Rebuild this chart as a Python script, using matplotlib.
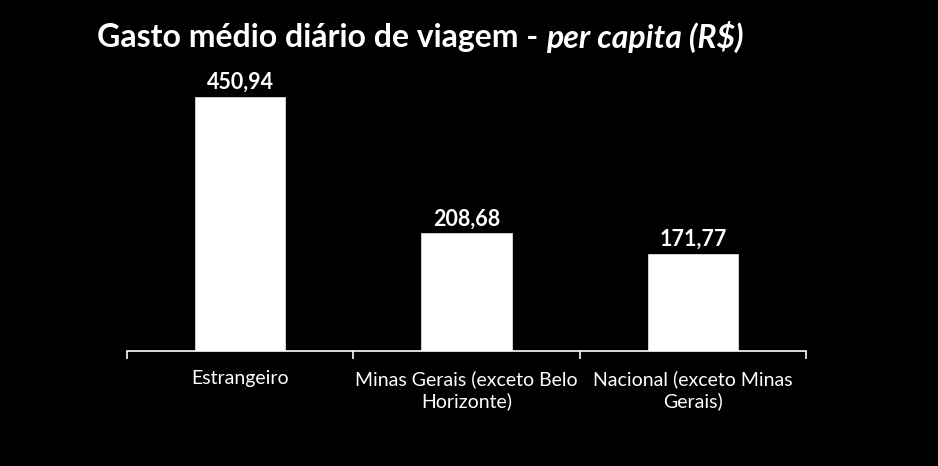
import matplotlib.pyplot as plt
import numpy as np

categories = ['Estrangeiro', 'Minas Gerais (exceto Belo\nHorizonte)', 'Nacional (exceto Minas\nGerais)']
values = [450.94, 208.68, 171.77]
value_labels = ['450,94', '208,68', '171,77']

plt.rcParams['font.family'] = ['Lato', 'DejaVu Sans']

fig = plt.figure(figsize=(9.38, 4.66), dpi=100, facecolor='black')
ax = fig.add_axes([127 / 938, 1 - 351 / 466, (806 - 127) / 938, (351 - 69.4) / 466])
ax.set_facecolor('black')

x = np.arange(len(categories))
ax.bar(x, values, width=0.4, color='white', edgecolor='#dddddd', linewidth=0.6)

for xi, v, lab in zip(x, values, value_labels):
    ax.annotate(lab, (xi, v), textcoords='offset points', xytext=(0, 3),
                ha='center', va='bottom', color='white', fontsize=15.5, fontweight='bold')

ax.set_xlim(-0.5, len(categories) - 0.5)
ax.set_ylim(0, 500)

for side in ['top', 'left', 'right']:
    ax.spines[side].set_visible(False)
ax.spines['bottom'].set_color('white')
ax.spines['bottom'].set_linewidth(1.2)

ax.set_yticks([])
ax.set_xticks([-0.5, 0.5, 1.5, 2.5])
ax.set_xticklabels([])
ax.tick_params(axis='x', colors='white', length=6, width=1.2, direction='out')
ax.set_xticks(x, minor=True)
ax.set_xticklabels(categories, minor=True, linespacing=1.25)
ax.tick_params(axis='x', which='minor', length=0, pad=14, labelsize=14, labelcolor='white')

fig.text(97 / 938, 1 - 37 / 466, 'Gasto médio diário de viagem - ', color='white',
         fontsize=23, fontweight='bold', va='center', ha='left')
t = fig.texts[-1]
fig.canvas.draw()
bb = t.get_window_extent()
fig.text(bb.x1 / 938, 1 - 37 / 466, 'per capita (R$)', color='white',
         fontsize=23, fontweight='bold', style='italic', va='center', ha='left')

fig.savefig('out.png', dpi=100, facecolor='black')
